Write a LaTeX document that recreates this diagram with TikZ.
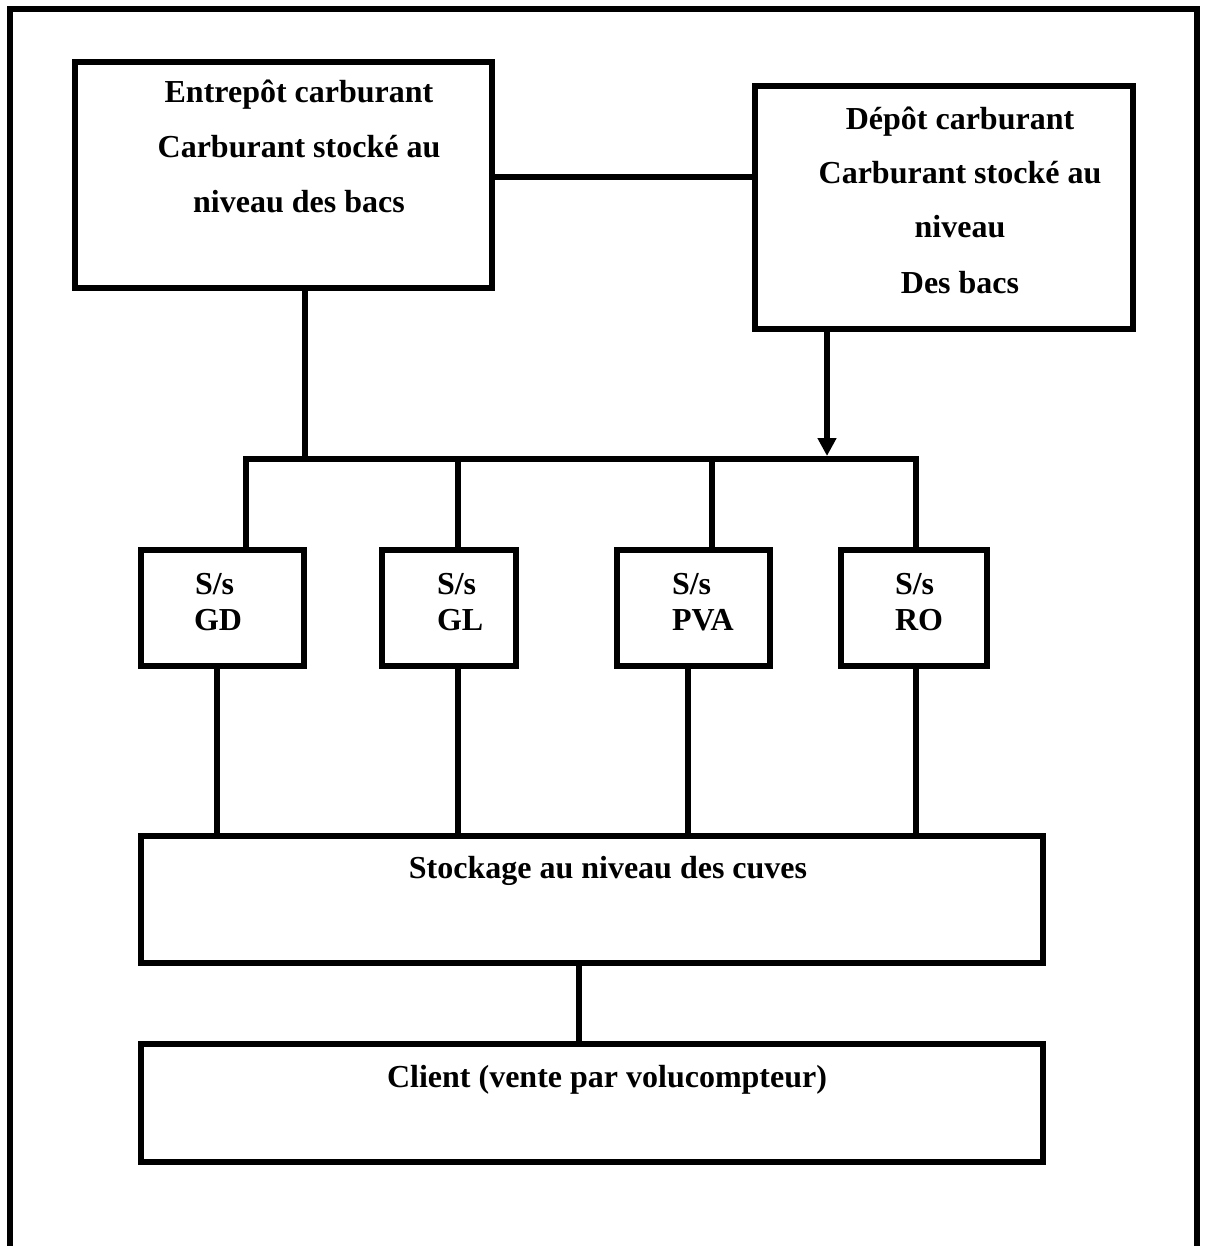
\documentclass[tikz,border=0pt]{standalone}
\usepackage{fontspec}
\setmainfont{Liberation Serif}
\usetikzlibrary{arrows.meta}
\begin{document}
\begin{tikzpicture}[x={(1pt,0)}, y={(0,-1pt)},
  wire/.style={line width=6pt, line cap=rect, line join=miter},
  block/.style={draw, line width=6pt, rectangle, inner sep=0pt, outer sep=0pt, fill=white},
  lbl/.style={inner sep=0pt, outer sep=0pt, font=\fontsize{32}{38}\selectfont\bfseries},
]
\useasboundingbox (0,0) rectangle (1205,1246);

% open outer frame
\draw[line width=6pt, line join=miter] (10,1250) -- (10,9.5) -- (1197,9.5) -- (1197,1250);

% boxes
\node[block, minimum width=417pt, minimum height=226pt] (entrepot) at (283.5,175) {};
\node[block, minimum width=378pt, minimum height=243pt] (depot) at (944,207.5) {};
\node[block, minimum width=163pt, minimum height=116pt] (gd) at (222.5,608) {};
\node[block, minimum width=134pt, minimum height=116pt] (gl) at (449,608) {};
\node[block, minimum width=153pt, minimum height=116pt] (pva) at (693.5,608) {};
\node[block, minimum width=146pt, minimum height=116pt] (ro) at (914,608) {};
\node[block, minimum width=902pt, minimum height=127pt] (cuves) at (592,899.5) {};
\node[block, minimum width=902pt, minimum height=118pt] (client) at (592,1103) {};

% labels
\node[lbl, anchor=base] (e1) at (299,103) {Entrepôt carburant};
\node[lbl, anchor=base] (e2) at (299,158) {Carburant stocké au};
\node[lbl, anchor=base] (e3) at (299,213) {niveau des bacs};
\node[lbl, anchor=base] (d1) at (960,130) {Dépôt carburant};
\node[lbl, anchor=base] (d2) at (960,184) {Carburant stocké au};
\node[lbl, anchor=base] (d3) at (960,238) {niveau};
\node[lbl, anchor=base] (d4) at (960,294) {Des bacs};
\node[lbl, anchor=base west] (gd1) at (195,594) {S/s};
\node[lbl, anchor=base west] (gd2) at (194,630) {GD};
\node[lbl, anchor=base west] (gl1) at (437,594) {S/s};
\node[lbl, anchor=base west] (gl2) at (437,630) {GL};
\node[lbl, anchor=base west] (pva1) at (672,594) {S/s};
\node[lbl, anchor=base west] (pva2) at (672,630) {PVA};
\node[lbl, anchor=base west] (ro1) at (895,594) {S/s};
\node[lbl, anchor=base west] (ro2) at (895,630) {RO};
\node[lbl, anchor=base] (c1) at (608,878) {Stockage au niveau des cuves};
\node[lbl, anchor=base] (cl1) at (607,1087) {Client (vente par volucompteur)};

% distribution bus
\coordinate (bus) at (243,459);
\coordinate (gdIn) at ([xshift=23.5pt]gd.north);
\coordinate (glIn) at ([xshift=9pt]gl.north);
\coordinate (pvaIn) at ([xshift=18.5pt]pva.north);
\coordinate (roIn) at ([xshift=2pt]ro.north);

% top connections
\draw[wire] ([yshift=-2pt]entrepot.east) -- ([yshift=-2pt]entrepot.east -| depot.west);
\draw[wire] ([xshift=21.5pt]entrepot.south) -- ([xshift=21.5pt]entrepot.south |- bus);
\draw[line width=6pt, -{Triangle[length=18pt,width=18pt]}]
  ([xshift=-117pt]depot.south) -- ([xshift=-117pt,yshift=3pt]depot.south |- bus);
\draw[wire, line cap=butt] (gdIn) -- (gdIn |- bus) -- (roIn |- bus) -- (roIn);
\draw[wire, line cap=butt] (glIn |- bus) -- (glIn);
\draw[wire, line cap=butt] (pvaIn |- bus) -- (pvaIn);

% links to the tanks
\draw[wire, line cap=butt] ([xshift=-5.5pt]gd.south) -- ([xshift=-5.5pt]gd.south |- cuves.north);
\draw[wire, line cap=butt] ([xshift=9pt]gl.south) -- ([xshift=9pt]gl.south |- cuves.north);
\draw[wire, line cap=butt] ([xshift=-5.5pt]pva.south) -- ([xshift=-5.5pt]pva.south |- cuves.north);
\draw[wire, line cap=butt] ([xshift=2pt]ro.south) -- ([xshift=2pt]ro.south |- cuves.north);
\draw[wire, line cap=butt] ([xshift=-13pt]cuves.south) -- ([xshift=-13pt]cuves.south |- client.north);
\end{tikzpicture}
\end{document}
